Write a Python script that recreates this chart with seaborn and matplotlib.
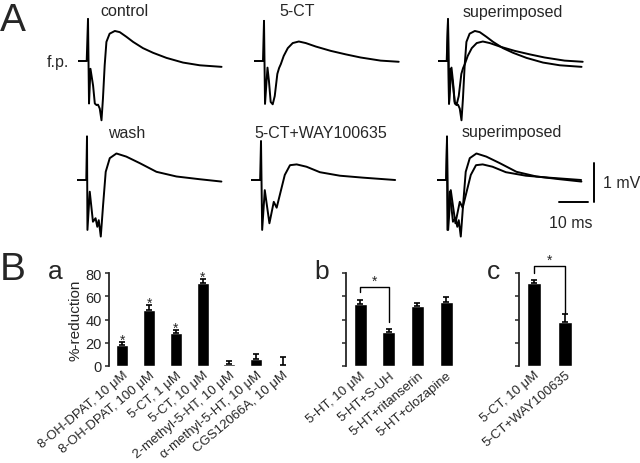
import matplotlib
matplotlib.use("Agg")
import matplotlib.pyplot as plt
import seaborn as sns
import numpy as np


# -----------------------------
# DATA
# -----------------------------
# A: field potential traces, time in ms, voltage in mV
control_t = [0, 3.0, 3.45, 3.8, 4.3, 5.2, 5.8, 6.4, 6.9, 7.5, 8.1, 8.6, 9.2, 9.8,
             10.9, 12.7, 14.4, 16.7, 19.0, 22.4, 25.9, 30.5, 36.2, 42.0, 49.5]
control_v = [0, 0, 1.08, -1.09, -0.2, -0.63, -1.09, -1.13, -1.12, -1.22, -1.52, -0.97,
             -0.11, 0.49, 0.70, 0.77, 0.74, 0.62, 0.49, 0.33, 0.21, 0.08, -0.04, -0.11, -0.15]

cct_t = [0, 3.1, 3.45, 3.8, 4.65, 5.15, 5.75, 6.45, 7.15, 8.05, 8.65, 9.25, 10.25,
         11.65, 13.35, 15.45, 17.85, 21.35, 26.45, 31.65, 36.75, 43.65, 49.9]
cct_v = [0, 0, 1.03, -1.10, -0.17, -0.51, -1.05, -1.11, -0.9, -0.33, -0.18, -0.08, 0.13,
         0.33, 0.46, 0.50, 0.46, 0.37, 0.26, 0.17, 0.09, 0.01, -0.02]

wash_t = [0, 3.2, 3.45, 3.6, 4.4, 5.5, 6.4, 7.0, 7.5, 8.2, 9.0, 9.9, 11.3, 13.6,
          17.0, 21.7, 27.4, 34.3, 42.3, 49.8]
wash_v = [0, 0, 1.12, -1.28, -0.3, -1.07, -0.98, -1.2, -1.03, -1.45, -0.64, 0.21, 0.56,
          0.68, 0.6, 0.43, 0.21, 0.09, 0.02, -0.04]

way_t = [0, 3.15, 3.45, 3.85, 4.75, 6.35, 7.85, 8.85, 9.95, 11.65, 13.45, 15.75,
         19.15, 23.75, 30.65, 38.65, 49.7]
way_v = [0, 0, 1.0, -1.28, -0.26, -1.11, -0.56, -0.71, -0.38, 0.13, 0.38, 0.4,
         0.34, 0.2, 0.11, 0.06, 0]

# B: %-reduction, mean and s.e.m.
a_labels = ["8-OH-DPAT, 10 μM", "8-OH-DPAT, 100 μM", "5-CT, 1 μM", "5-CT, 10 μM",
            "2-methyl-5-HT, 10 μM", "α-methyl-5-HT, 10 μM", "CGS12066A, 10 μM"]
a_mean = [18, 48.5, 28, 71, 2, 6, 1]
a_sem = [2.5, 4, 3, 4, 2.5, 4, 6.5]
a_star = [True, True, True, True, False, False, False]

b_labels = ["5-HT, 10 μM", "5-HT+S-UH", "5-HT+ritanserin", "5-HT+clozapine"]
b_mean = [53, 29, 52, 55]
b_sem = [3.5, 3, 2.5, 4.5]

c_labels = ["5-CT, 10 μM", "5-CT+WAY100635"]
c_mean = [71, 38]
c_sem = [3, 6.5]


# -----------------------------
# CONFIG
# -----------------------------
sns.set_style("white")
plt.rcParams["font.family"] = ["Liberation Sans", "DejaVu Sans"]

W, H = 640, 464
MS_PX = 2.9      # pixels per ms
MV_PX = 39.0     # pixels per mV
T_LIM = (0, 52)
V_LIM = (-1.7, 1.25)
BAR_TOP, BAR_BOTTOM = 274, 367


def px_rect(left, top, width, height):
    return [left / W, 1 - (top + height) / H, width / W, height / H]


def px(x, y):
    return x / W, 1 - y / H


def trace_axes(fig, x0, y0, traces):
    width = (T_LIM[1] - T_LIM[0]) * MS_PX
    height = (V_LIM[1] - V_LIM[0]) * MV_PX
    top = y0 - V_LIM[1] * MV_PX
    ax = fig.add_axes(px_rect(x0, top, width, height))
    for t, v in traces:
        sns.lineplot(x=t, y=v, ax=ax, color="black", linewidth=1.4,
                     sort=False, estimator=None)
    ax.set_xlim(T_LIM)
    ax.set_ylim(V_LIM)
    ax.axis("off")
    return ax


def bar_panel(fig, left, step, labels, means, sems, ticklabels=True):
    n = len(labels)
    ax = fig.add_axes(px_rect(left, BAR_TOP, n * step, BAR_BOTTOM - BAR_TOP))
    sns.barplot(x=labels, y=means, color="black", saturation=1, width=0.45, ax=ax)
    ax.errorbar(range(n), means, yerr=[np.zeros(n), sems], fmt="none",
                ecolor="black", elinewidth=1.2, capsize=2.5, capthick=1.2,
                clip_on=False)
    ax.set_xlim(-0.5, n - 0.5)
    ax.set_ylim(0, 80)
    ax.set_yticks([0, 20, 40, 60, 80])
    for side in ["top", "right", "bottom"]:
        ax.spines[side].set_visible(False)
    ax.spines["left"].set_linewidth(1.3)
    ax.tick_params(axis="y", direction="out", length=3, width=1.1,
                   labelsize=10.5, pad=2, left=True)
    ax.tick_params(axis="x", length=0, pad=2)
    ax.set_xticks(range(n))
    ax.set_xticklabels(labels, rotation=40, ha="right", va="top",
                       rotation_mode="anchor", fontsize=9.5)
    if not ticklabels:
        ax.set_yticklabels([])
    ax.set_ylabel("")
    ax.set_xlabel("")
    return ax


def bracket(ax, x1, x2, y_left, y_top, y_right, star_y):
    ax.plot([x1, x1, x2, x2], [y_left, y_top, y_top, y_right], color="black",
            linewidth=1.0, clip_on=False)
    ax.text((x1 + x2) / 2, star_y, "*", ha="center", va="baseline",
            fontsize=10, clip_on=False)


# -----------------------------
# FIGURE
# -----------------------------
fig = plt.figure(figsize=(6.4, 4.64), dpi=100)

# A: traces
trace_axes(fig, 78, 62, [(control_t, control_v)])
trace_axes(fig, 254, 62, [(cct_t, cct_v)])
trace_axes(fig, 438, 62, [(control_t, control_v), (cct_t, cct_v)])
trace_axes(fig, 77, 181, [(wash_t, wash_v)])
trace_axes(fig, 251, 181, [(way_t, way_v)])
last = trace_axes(fig, 437, 181, [(wash_t, wash_v), (way_t, way_v)])

# scale bars: 10 ms and 1 mV
last.plot([42.1, 52.1], [-0.56, -0.56], color="black", linewidth=1.4, clip_on=False)
last.plot([54.1, 54.1], [-0.56, 0.44], color="black", linewidth=1.4, clip_on=False)

titles = [("control", 124, 12), ("5-CT", 297, 12), ("superimposed", 513, 12),
          ("wash", 127, 133), ("5-CT+WAY100635", 321, 133), ("superimposed", 512, 133)]
for label, x, y in titles:
    fig.text(*px(x, y), label, ha="center", va="center", fontsize=11.5)

fig.text(*px(58, 62), "f.p.", ha="center", va="center", fontsize=11.5)
fig.text(*px(603, 184), "1 mV", ha="left", va="center", fontsize=11.5)
fig.text(*px(571, 224), "10 ms", ha="center", va="center", fontsize=11.5)

# B: bar charts
ax_a = bar_panel(fig, 109, 26.75, a_labels, a_mean, a_sem)
ax_a.set_ylabel("%-reduction", fontsize=11, labelpad=2)
for i, (m, s, sig) in enumerate(zip(a_mean, a_sem, a_star)):
    if sig:
        ax_a.text(i, m + s - 1.5, "*", ha="center", va="baseline", fontsize=10)

ax_b = bar_panel(fig, 345.7, 28.7, b_labels, b_mean, b_sem, ticklabels=False)
bracket(ax_b, 0, 1, 63.8, 67.6, 37.8, 69.5)

ax_c = bar_panel(fig, 518.5, 31, c_labels, c_mean, c_sem, ticklabels=False)
bracket(ax_c, 0, 1, 80.4, 86.1, 46, 87.5)

# panel letters
fig.text(*px(0, 31), "A", ha="left", va="baseline", fontsize=28)
fig.text(*px(0, 280), "B", ha="left", va="baseline", fontsize=28)
fig.text(*px(55, 279), "a", ha="center", va="baseline", fontsize=19)
fig.text(*px(322, 279), "b", ha="center", va="baseline", fontsize=19)
fig.text(*px(493, 279), "c", ha="center", va="baseline", fontsize=19)

fig.savefig("out.png", dpi=100, facecolor="white")
